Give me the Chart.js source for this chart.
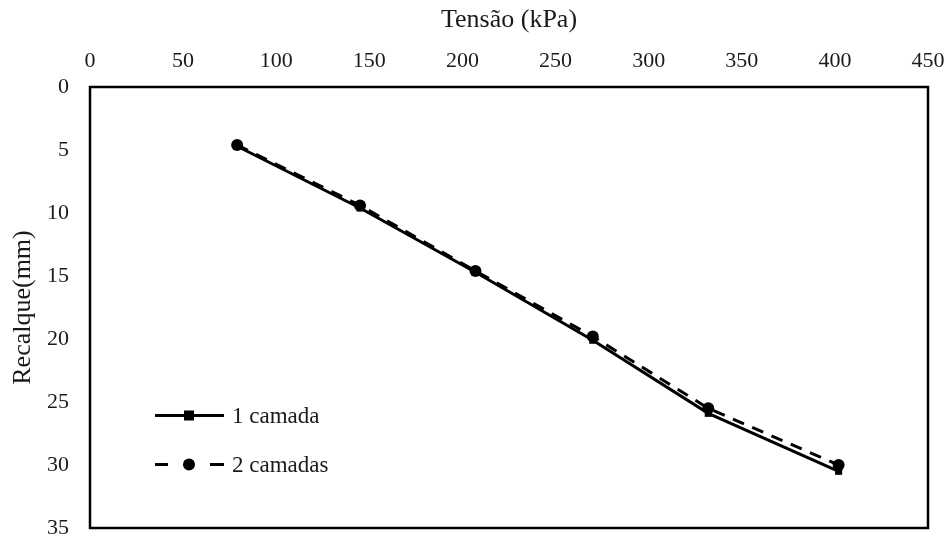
<!DOCTYPE html>
<html>
<head>
<meta charset="utf-8">
<script src="https://cdn.jsdelivr.net/npm/chart.js@4.4.1/dist/chart.umd.min.js"></script>
<style>
  html, body { margin: 0; padding: 0; background: #fff; }
  #wrap { width: 951px; height: 540px; position: relative; }
</style>
</head>
<body>
<div id="wrap"><canvas id="c" width="951" height="540"></canvas></div>
<script>
// Load test results: applied stress (kPa) vs settlement (mm)
const tensao = [79, 145, 207, 270, 332, 402];
const recalqueUmaCamada = [4.7, 9.6, 14.7, 20.1, 25.9, 30.5];
const recalqueDuasCamadas = [4.6, 9.4, 14.6, 19.8, 25.5, 30.0];
const seriesNames = ['1 camada', '2 camadas'];
const xTickValues = [0, 50, 100, 150, 200, 250, 300, 350, 400, 450];
const yTickValues = [0, 5, 10, 15, 20, 25, 30, 35];

const serif = "'Liberation Serif', 'Times New Roman', serif";
const ink = '#1a1a1a';

const toPoints = (ys) => tensao.map((x, i) => ({ x, y: ys[i] }));

// Frame around the plotting area
const frame = {
  id: 'frame',
  afterDraw(chart) {
    const { ctx, chartArea: a } = chart;
    ctx.save();
    ctx.strokeStyle = '#000';
    ctx.lineWidth = 2.5;
    ctx.strokeRect(a.left, a.top, a.right - a.left, a.bottom - a.top);
    ctx.restore();
  }
};

// Legend drawn inside the plot, lower-left corner
const innerLegend = {
  id: 'innerLegend',
  afterDatasetsDraw(chart) {
    const { ctx } = chart;
    const rows = [415.5, 464.5];
    const x0 = 155, x1 = 224, xm = 189, xt = 232;
    ctx.save();
    chart.data.datasets.forEach((ds, i) => {
      const y = rows[i];
      ctx.strokeStyle = ds.borderColor;
      ctx.lineWidth = ds.borderWidth;
      ctx.setLineDash([]);
      ctx.beginPath();
      if (ds.borderDash && ds.borderDash.length) {
        ctx.moveTo(x0, y); ctx.lineTo(x0 + 13, y);
        ctx.moveTo(x1 - 14, y); ctx.lineTo(x1, y);
      } else {
        ctx.moveTo(x0, y); ctx.lineTo(x1, y);
      }
      ctx.stroke();
      ctx.fillStyle = ds.pointBackgroundColor;
      ctx.beginPath();
      if (ds.pointStyle === 'rect') {
        const r = ds.pointRadius;
        ctx.rect(xm - r, y - r, 2 * r, 2 * r);
      } else {
        ctx.arc(xm, y, ds.pointRadius, 0, Math.PI * 2);
      }
      ctx.fill();
      ctx.fillStyle = ink;
      ctx.font = '23px ' + serif;
      ctx.textBaseline = 'middle';
      ctx.textAlign = 'left';
      ctx.fillText(ds.label, xt, y + 1);
    });
    ctx.restore();
  }
};

// Label overflow should not shrink the plot area; the outer margins are set by layout.padding
const noOverflow = (axis) => {
  axis.paddingLeft = 0; axis.paddingRight = 0;
  axis.paddingTop = 0; axis.paddingBottom = 0;
};

new Chart(document.getElementById('c'), {
  type: 'line',
  data: {
    datasets: [
      {
        label: seriesNames[0],
        data: toPoints(recalqueUmaCamada),
        borderColor: '#000',
        borderWidth: 3,
        pointStyle: 'rect',
        pointRadius: 5,
        pointBackgroundColor: '#000',
        pointBorderWidth: 0,
        tension: 0,
        order: 1
      },
      {
        label: seriesNames[1],
        data: toPoints(recalqueDuasCamadas),
        borderColor: '#000',
        borderWidth: 3,
        borderDash: [12, 9],
        pointStyle: 'circle',
        pointRadius: 6,
        pointBackgroundColor: '#000',
        pointBorderWidth: 0,
        tension: 0,
        order: 0
      }
    ]
  },
  options: {
    responsive: false,
    animation: false,
    layout: { padding: { left: 0, top: 0, right: 23, bottom: 12 } },
    plugins: { legend: { display: false }, tooltip: { enabled: false } },
    scales: {
      x: {
        type: 'linear',
        position: 'top',
        min: 0,
        max: 450,
        afterBuildTicks(axis) { axis.ticks = xTickValues.map(v => ({ value: v })); },
        afterFit(axis) { axis.height = 87; noOverflow(axis); },
        grid: { display: false, drawTicks: false },
        border: { display: false },
        ticks: { color: ink, font: { family: serif, size: 22 }, padding: 13, maxRotation: 0 },
        title: {
          display: true,
          text: 'Tensão (kPa)',
          color: ink,
          font: { family: serif, size: 26 },
          padding: { top: 5, bottom: 0 }
        }
      },
      y: {
        type: 'linear',
        reverse: true,
        min: 0,
        max: 35,
        afterBuildTicks(axis) { axis.ticks = yTickValues.map(v => ({ value: v })); },
        afterFit(axis) { axis.width = 90; noOverflow(axis); },
        grid: { display: false, drawTicks: false },
        border: { display: false },
        ticks: { color: ink, font: { family: serif, size: 22 }, padding: 21 },
        title: {
          display: true,
          text: 'Recalque(mm)',
          color: ink,
          font: { family: serif, size: 26 },
          padding: { top: 8, bottom: 0 }
        }
      }
    }
  },
  plugins: [frame, innerLegend]
});
</script>
</body>
</html>
